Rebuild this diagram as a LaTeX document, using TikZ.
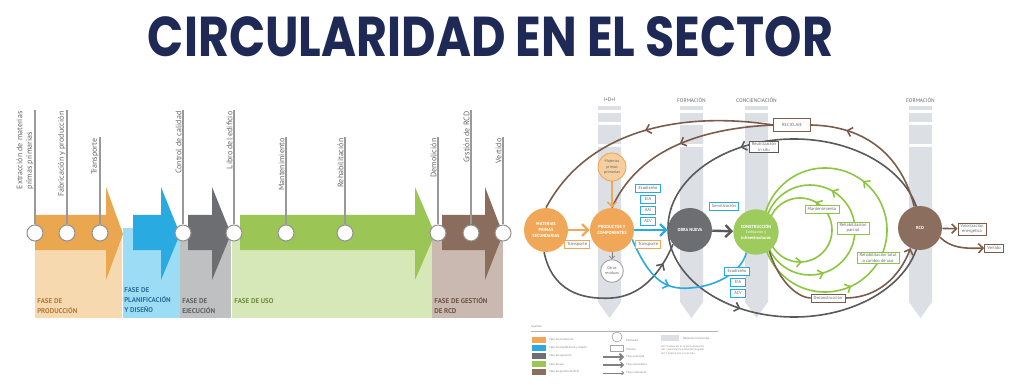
\documentclass[tikz,border=0pt]{standalone}
\usepackage{graphicx}
\usepackage{fontspec}
\setmainfont{PT Sans}
\newfontfamily\titlefont{Poppins}
\usetikzlibrary{arrows.meta,decorations.markings}
\definecolor{navy}{HTML}{1E2A55}
\definecolor{orangeD}{HTML}{EBA650}
\definecolor{orangeL}{HTML}{F7D9B0}
\definecolor{blueD}{HTML}{29ABE2}
\definecolor{blueL}{HTML}{9DDCF5}
\definecolor{grayD}{HTML}{6D6E71}
\definecolor{grayL}{HTML}{BFC0C2}
\definecolor{greenD}{HTML}{9BC655}
\definecolor{greenL}{HTML}{D7E8B8}
\definecolor{brownD}{HTML}{8A6D5D}
\definecolor{brownL}{HTML}{C9B9B0}
\definecolor{orangeC}{HTML}{F0A758}
\definecolor{orangeLL}{HTML}{F6CFA0}
\definecolor{blueC}{HTML}{29ABE2}
\definecolor{obraC}{HTML}{6D6E71}
\definecolor{lineG}{HTML}{58595B}
\definecolor{greenC}{HTML}{8DC63F}
\definecolor{consC}{HTML}{9DCB5C}
\definecolor{brownC}{HTML}{7B5C4C}
\definecolor{rcdC}{HTML}{8B6E5E}
\definecolor{pillar}{HTML}{DCDFE3}
\definecolor{txtG}{HTML}{666666}
\definecolor{ptOr}{HTML}{B07A3A}
\definecolor{ptBl}{HTML}{2B6F9B}
\definecolor{ptGr}{HTML}{5E5F61}
\definecolor{ptGn}{HTML}{6E8B3D}
\definecolor{ptBr}{HTML}{6F5446}
\pgfdeclarelayer{back}
\pgfdeclarelayer{bg}
\pgfsetlayers{back,bg,main}
\tikzset{
  tcirc/.style={circle, draw=gray!85, fill=white, line width=0.8pt, minimum size=12pt, inner sep=0},
  vline/.style={draw=gray!80, line width=0.8pt},
  vlabel/.style={rotate=90, align=left, inner sep=1pt, text=txtG, font=\fontsize{6}{7}\selectfont},
  phase/.style={anchor=north west, align=left, inner sep=0, font=\bfseries\fontsize{5.2}{7.5}\selectfont},
  plab/.style={text=txtG, font=\fontsize{4}{5}\selectfont, inner sep=0},
  bigc/.style={circle, inner sep=0, minimum size=33pt, align=center, text=white, font=\bfseries\fontsize{3.3}{4.3}\selectfont},
  smallc/.style={circle, inner sep=0, align=center, text=txtG, line width=0.7pt, font=\fontsize{3}{3.8}\selectfont},
  tbox/.style={draw=#1, fill=white, line width=0.6pt, inner xsep=2pt, inner ysep=1pt, minimum height=6pt, align=center, text=txtG, font=\fontsize{3.3}{4}\selectfont},
  mainflow/.style={line width=1.8pt, -{Straight Barb[length=4.5pt,width=9pt]}},
  secflow/.style={line width=1.2pt},
  secarrow/.style={line width=1.2pt, -{Straight Barb[length=3.5pt,width=7pt]}},
  amark/.style={postaction={decorate}, decoration={markings, mark=at position #1 with {\arrow{Straight Barb[length=3.5pt,width=7pt]}}}},
  amarks/.style 2 args={postaction={decorate}, decoration={markings, mark=at position #1 with {\arrow{Straight Barb[length=3.5pt,width=7pt]}}, mark=at position #2 with {\arrow{Straight Barb[length=3.5pt,width=7pt]}}}},
  lgtext/.style={text=gray, font=\fontsize{2.2}{2.8}\selectfont, inner sep=0},
}
\begin{document}
\begin{tikzpicture}[x=0.75pt,y=-0.75pt]
\useasboundingbox (0,0) rectangle (1028,392);
\begin{pgfonlayer}{back}
\fill[white] (0,0) rectangle (1028,392);
\end{pgfonlayer}

% title
\node[text=navy, inner sep=0] (title) at (490.5,37) {\resizebox{513.75pt}{30pt}{\titlefont\bfseries CIRCULARIDAD EN EL SECTOR}};

% ---------------- left panel ----------------
\fill[orangeL] (35,228) rectangle (122,318);
\fill[blueL] (123,228) rectangle (180,318);
\fill[grayL] (180,228) rectangle (231,318);
\fill[greenL] (232,228) rectangle (432,318);
\fill[brownL] (432,228) rectangle (503,318);

\fill[orangeD] (35,215) -- (106,215) -- (106,187) -- (123,234) -- (106,280) -- (106,250) -- (35,250) -- cycle;
\fill[blueD] (133,215) -- (161,215) -- (161,187) -- (180,234) -- (161,280) -- (161,250) -- (133,250) -- cycle;
\fill[grayD] (188,215) -- (212,215) -- (212,187) -- (231,234) -- (212,280) -- (212,250) -- (188,250) -- cycle;
\fill[greenD] (240,215) -- (415,215) -- (415,187) -- (435,234) -- (415,280) -- (415,250) -- (240,250) -- cycle;
\fill[brownD] (442,215) -- (485,215) -- (485,187) -- (503,234) -- (485,280) -- (485,250) -- (442,250) -- cycle;

\foreach \x/\t/\lab [count=\i] in {35/110/{Extracción de materias\\primas primarias}, 67/110/{Fabricación y producción}, 100/137/{Transporte}, 183/110/{Control de calidad}, 234/110/{Libro del edificio}, 286/137/{Mantenimiento}, 345/137/{Rehabilitación}, 438/137/{Demolición}, 471/110/{Grstión de RCD}, 503/137/{Vertido}} {
  \coordinate (t\i) at (\x,\t);
  \node[tcirc] (c\i) at (\x,233) {};
  \draw[vline] (c\i.north) -- (t\i);
  \node[vlabel, anchor=south east] (l\i) at (t\i) {\lab};
}

\node[phase, text=ptOr] (ph1) at (37,298.5) {FASE DE\\PRODUCCIÓN};
\node[phase, text=ptBl] (ph2) at (124,287.5) {FASE DE\\PLANIFICACIÓN\\Y DISEÑO};
\node[phase, text=ptGr] (ph3) at (182,298.5) {FASE DE\\EJECUCIÓN};
\node[phase, text=ptGn] (ph4) at (234,298.5) {FASE DE USO};
\node[phase, text=ptBr] (ph5) at (434,297.5) {FASE DE GESTIÓN\\DE RCD};

% ---------------- right panel ----------------
\begin{pgfonlayer}{back}
\foreach \xl/\lab [count=\i] in {598/I+D+I, 680/FORMACIÓN, 745/CONCIENCIACIÓN, 909/FORMACIÓN} {
  \fill[pillar] (\xl,106) rectangle ++(23,4);
  \fill[pillar] (\xl,113) rectangle ++(23,9);
  \fill[pillar] (\xl,125) rectangle ++(23,19);
  \fill[pillar] (\xl,147) -- ++(23,0) -- ++(0,155) -- ++(-11.5,16) -- ++(-11.5,-16) -- cycle;
  \node[plab] (p\i) at (\xl+11.5,100) {\lab};
}
\end{pgfonlayer}

% nodes
\node[bigc, fill=orangeC] (mps) at (546,230) {MATERIAS\\PRIMAS\\SECUNDARIAS};
\node[bigc, fill=orangeC] (prod) at (612,230) {PRODUCTOS Y\\COMPONENTES};
\node[smallc, fill=orangeLL, draw=orangeC, minimum size=21pt] (mpp) at (612,167) {Materias\\primas\\primarias};
\node[smallc, fill=white, draw=gray!70, minimum size=17pt] (otros) at (612,271) {Otros\\residuos};
\node[bigc, fill=obraC] (obra) at (690,230) {OBRA NUEVA};
\node[bigc, fill=consC, minimum size=34pt] (cons) at (756,232) {CONSTRUCCIÓN\\\mdseries\fontsize{2.8}{3.5}\selectfont Edificación y\\infraestructuras};
\node[bigc, fill=rcdC] (rcd) at (920,228) {RCD};

\node[tbox=orangeC] (tr1) at (577,244) {Transporte};
\node[tbox=orangeC] (tr2) at (648,244) {Transporte};
\node[tbox=blueC] (eco1) at (648,188) {Ecodiseño};
\node[tbox=blueC, minimum width=11pt] (eia1) at (648,199) {EIA};
\node[tbox=blueC, minimum width=11pt] (aai) at (648,210) {AAI};
\node[tbox=blueC, minimum width=11pt] (acv1) at (648,221) {ACV};
\node[tbox=blueC] (serv) at (724,206) {Servitización};
\node[tbox=blueC] (eco2) at (737,271) {Ecodiseño};
\node[tbox=blueC, minimum width=11pt] (eia2) at (738,282) {EIA};
\node[tbox=blueC, minimum width=11pt] (acv2) at (738,293) {ACV};
\node[tbox=brownC, minimum width=28pt, minimum height=9.5pt] (recic) at (792,125) {RECICLAJE};
\node[tbox=lineG] (reut) at (764,147) {Reutilización\\in situ};
\node[tbox=greenC] (mant) at (822,209) {Mantenimiento};
\node[tbox=greenC] (rehp) at (853,228) {Rehabilitación\\parcial};
\node[tbox=greenC] (reht) at (878,258) {Rehabilitación total\\o cambio de uso};
\node[tbox=brownC] (decon) at (828,298) {Deconstrucción};
\node[tbox=brownC] (valor) at (972,229) {Valorización\\energética};
\node[tbox=brownC] (vert) at (994,248) {Vertido};

% connectors
\begin{pgfonlayer}{bg}
% big gray loop
\draw[secflow, lineG, amarks={0.33}{0.67}] (rcd.center) arc[start angle=0, end angle=-360, x radius=126, y radius=89];
% left gray loop
\draw[secflow, lineG, amark=0.88] (mps.-95) .. controls (552,290) and (580,300) .. (612,298) .. controls (640,296) and (660,275) .. (obra.-140);
% green loops
\draw[secflow, greenC, amarks={0.17}{0.76}] (832,230) arc[start angle=0, end angle=-360, radius=32];
\draw[secflow, greenC, amarks={0.17}{0.8}] (855,230) arc[start angle=0, end angle=-360, radius=45];
\draw[secflow, greenC, amarks={0.145}{0.82}] (887,230) arc[start angle=0, end angle=-360, radius=62];
% brown recycling arcs
\draw[secflow, brownC, amark=0.5] (recic.west) .. controls (690,112) and (590,125) .. (mps.north);
\draw[secflow, brownC, amark=0.5] (recic.west) .. controls (710,128) and (640,145) .. (prod.north);
\draw[secflow, brownC, amark=0.75] (rcd.105) .. controls (900,150) and (860,126) .. (recic.east);
% deconstruction
\draw[secflow, brownC] (cons.-55) .. controls (780,285) and (800,298) .. (decon.west);
\draw[secarrow, brownC] (decon.east) .. controls (870,298) and (896,285) .. (rcd.-115);
\draw[secarrow, brownC] (rcd) -- (valor);
\draw[secarrow, brownC] (rcd.-25) .. controls (950,247) and (962,249) .. (vert.west);
% blue curve
\draw[secflow, blueC, amark=0.4] (prod.-25) .. controls (650,280) and (665,290) .. (690,288) .. controls (720,286) and (742,270) .. (cons.-115);
% main flows
\draw[mainflow, orangeC] (mps) -- (prod);
\draw[mainflow, blueC] (prod) -- (obra);
\draw[mainflow, lineG] (obra) -- (cons);
\draw[secarrow, orangeC] (mpp) -- (prod);
\draw[line width=0.6pt, gray, -{Straight Barb[length=2pt,width=4pt]}] (prod) -- (otros);
\end{pgfonlayer}

% legend
\node[lgtext, anchor=west] (ley) at (531,327) {Leyenda};
\draw[gray!60, line width=0.4pt] (531,331) -- (718,331);
\foreach \c/\t [count=\i] in {orangeC/Fase de producción, blueC/Fase de planificación y diseño, obraC/Fase de ejecución, greenD/Fase de uso, rcdC/Fase de gestión de RCD} {
  \node[fill=\c, minimum width=10.5pt, minimum height=4.5pt, inner sep=0] (sq\i) at (539,332+8*\i) {};
  \node[lgtext, anchor=west] (sqt\i) at (549,332+8*\i) {\t};
}
\node[circle, draw=gray!70, line width=0.5pt, minimum size=7.5pt, inner sep=0] (lgc) at (617,337) {};
\node[lgtext, anchor=west] (lgct) at (626,340) {Elemento};
\node[draw=gray!70, line width=0.5pt, minimum width=10pt, minimum height=4.5pt, inner sep=0] (lgb) at (617,348) {};
\node[lgtext, anchor=west] (lgbt) at (626,349) {Proceso};
\coordinate (la1) at (603,357); \coordinate (lb1) at (624,357);
\coordinate (la2) at (603,365); \coordinate (lb2) at (624,365);
\coordinate (la3) at (603,373); \coordinate (lb3) at (624,373);
\draw[line width=1.4pt, gray, -{Straight Barb[length=2.5pt,width=5pt]}] (la1) -- (lb1);
\draw[line width=0.9pt, gray, -{Straight Barb[length=2pt,width=4pt]}] (la2) -- (lb2);
\draw[line width=0.5pt, gray, -{Straight Barb[length=1.5pt,width=3pt]}] (la3) -- (lb3);
\node[lgtext, anchor=west] (lt1) at (626,357) {Flujo principal};
\node[lgtext, anchor=west] (lt2) at (626,365) {Flujo secundario};
\node[lgtext, anchor=west] (lt3) at (626,373) {Flujo retornante};
\node[fill=pillar, minimum width=14pt, minimum height=5pt, inner sep=0] (lgp) at (670,338) {};
\node[lgtext, anchor=west] (lgpt) at (683,339) {Requisito transversal};
\node[lgtext, anchor=north west, align=left, font=\fontsize{1.9}{2.8}\selectfont] (lgn) at (661,345) {EIA = Evaluación de Impacto Ambiental\\AAI = Autorización Ambiental Integrada\\ACV = Análisis de Ciclo de Vida};
\end{tikzpicture}
\end{document}
